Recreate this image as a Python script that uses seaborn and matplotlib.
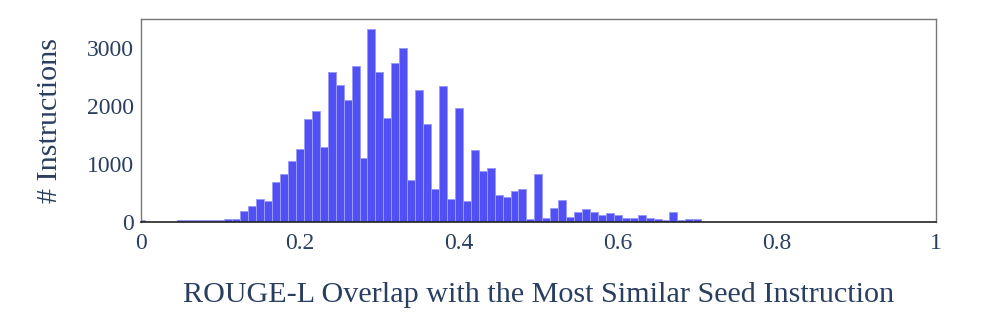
import numpy as np
import pandas as pd
import matplotlib
matplotlib.use("Agg")
import matplotlib.pyplot as plt
import seaborn as sns

# ROUGE-L bin centres (bin size 0.01) and counts
rouge_centers = [round(0.01 * k, 2) for k in range(71)]
counts = [25, 0, 0, 0, 0, 30, 30, 30, 30, 30, 32, 46, 46, 178, 270, 386, 357, 686, 832, 1040,
          1253, 1778, 1906, 1295, 2584, 2364, 2104, 2693, 1098, 3329, 2584, 1798, 2740, 3000, 728,
          2277, 1694, 561, 2347, 387, 1971, 358, 1231, 867, 925, 465, 420, 532, 566, 46,
          826, 64, 243, 376, 87, 173, 220, 173, 110, 150, 110, 69, 69, 116, 69, 46, 23, 173, 29, 46, 46]
x_ticks = [0, 0.2, 0.4, 0.6, 0.8, 1]
x_tick_labels = ["0", "0.2", "0.4", "0.6", "0.8", "1"]
y_ticks = [0, 1000, 2000, 3000]

df = pd.DataFrame({"rouge": rouge_centers, "n": counts})
df = df[df["n"] > 0]

sns.set_theme(style="white")
plt.rcParams["font.family"] = ["Liberation Serif", "DejaVu Serif"]
txt = "#2a3f5f"

fig = plt.figure(figsize=(9.86, 3.24), dpi=100)
ax = fig.add_axes([0.143, 0.316, 0.806, 0.6256])

sns.histplot(data=df, x="rouge", weights="n", binwidth=0.01, binrange=(-0.005, 0.705), ax=ax,
             color="#5050F5", alpha=1.0, edgecolor="#9a9af9", linewidth=0.7)

ax.set_xlim(0, 1)
ax.set_ylim(0, 3505)
ax.set_xticks(x_ticks)
ax.set_xticklabels(x_tick_labels)
ax.set_yticks(y_ticks)
ax.tick_params(axis="both", length=0, labelsize=17, colors=txt)
ax.tick_params(axis="y", pad=5)
ax.tick_params(axis="x", pad=8)
ax.set_xlabel("ROUGE-L Overlap with the Most Similar Seed Instruction", fontsize=21.7, color=txt, labelpad=20)
ax.set_ylabel("# Instructions", fontsize=21.7, color=txt, labelpad=17)

for s in ["top", "right", "left"]:
    ax.spines[s].set_color("#777777")
    ax.spines[s].set_linewidth(1.0)
ax.spines["bottom"].set_color("#222222")
ax.spines["bottom"].set_linewidth(1.2)

fig.savefig("out.png", dpi=100)
